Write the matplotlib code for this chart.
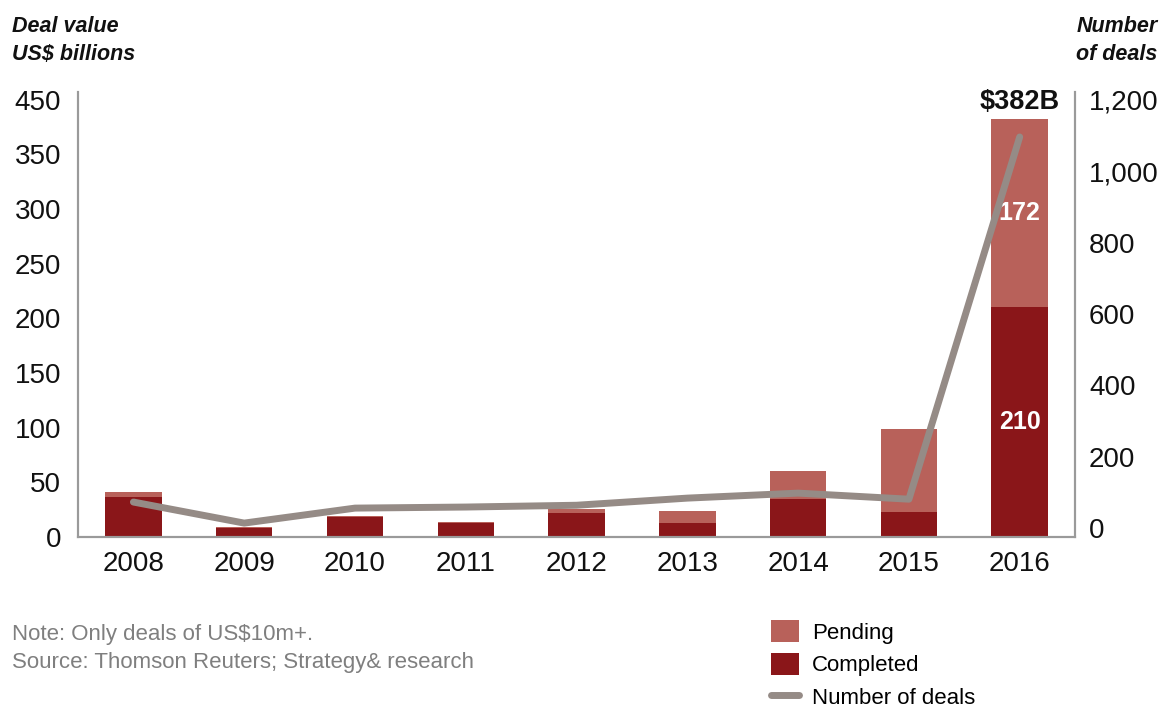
import matplotlib.pyplot as plt
from matplotlib.patches import Patch
from matplotlib.lines import Line2D
import numpy as np

plt.rcParams['font.family'] = ['Liberation Sans', 'DejaVu Sans']

# deal values in US$ billions and number of deals per year
years = ['2008', '2009', '2010', '2011', '2012', '2013', '2014', '2015', '2016']
completed = [37, 8, 18, 13, 22, 13, 35, 23, 210]
pending = [4, 1, 1, 1, 4, 11, 25, 76, 172]
num_deals = [73, 14, 56, 59, 64, 84, 98, 81, 1096]

# left axis ticks (top label reads 450 on the printed scale)
left_ticks = [0, 50, 100, 150, 200, 250, 300, 350, 400]
left_labels = ['0', '50', '100', '150', '200', '250', '300', '350', '450']
right_ticks = [0, 200, 400, 600, 800, 1000, 1200]
right_labels = ['0', '200', '400', '600', '800', '1,000', '1,200']

c_done = '#8A1619'
c_pend = '#B8615A'
c_line = '#958B86'
c_spine = '#9A9A9A'

fig = plt.figure(figsize=(11.61, 7.11), dpi=100)
ax = fig.add_axes([0.0672, 0.2447, 0.8588, 0.6259])
x = np.arange(len(years))

ax.bar(x, completed, width=0.51, color=c_done, zorder=2)
ax.bar(x, pending, width=0.51, bottom=completed, color=c_pend, zorder=2)
ax.set_xlim(-0.5, 8.5)
ax.set_ylim(0, 407)
ax.set_yticks(left_ticks)
ax.set_yticklabels(left_labels)
ax.set_xticks(x)
ax.set_xticklabels(years)
ax.tick_params(length=0, labelsize=20, colors='#111111')
ax.tick_params(axis='y', pad=12)
ax.tick_params(axis='x', pad=10)
ax.spines['top'].set_visible(False)
for s in ['left', 'bottom', 'right']:
    ax.spines[s].set_color(c_spine)
    ax.spines[s].set_linewidth(1.5)

# values inside the 2016 bar and total above it
ax.text(x[-1], completed[-1] / 2, str(completed[-1]), ha='center', va='center',
        color='white', fontsize=18, fontweight='bold', zorder=4)
ax.text(x[-1], completed[-1] + pending[-1] / 2, str(pending[-1]), ha='center', va='center',
        color='white', fontsize=18, fontweight='bold', zorder=4)
total = completed[-1] + pending[-1]
ax.annotate('$%dB' % total, (x[-1], total), xytext=(0, 3), textcoords='offset points',
            ha='center', va='bottom', fontsize=19.5, fontweight='bold', color='#111111',
            zorder=5, annotation_clip=False)

ax2 = ax.twinx()
ax2.plot(x, num_deals, color=c_line, linewidth=5, solid_capstyle='round', zorder=3)
ax2.set_ylim(-25, 1222)
ax2.set_yticks(right_ticks)
ax2.set_yticklabels(right_labels)
ax2.tick_params(length=0, labelsize=20, colors='#111111', pad=10)
ax2.spines['top'].set_visible(False)
for s in ['left', 'bottom', 'right']:
    ax2.spines[s].set_color(c_spine)
    ax2.spines[s].set_linewidth(1.5)

fig.text(0.010, 0.978, 'Deal value\nUS$ billions', ha='left', va='top', fontsize=15.5,
         fontweight='bold', fontstyle='italic', color='#111111', linespacing=1.45)
fig.text(0.997, 0.978, 'Number\nof deals', ha='right', va='top', fontsize=15.5,
         fontweight='bold', fontstyle='italic', color='#111111', linespacing=1.45)

fig.text(0.010, 0.122, 'Note: Only deals of US$10m+.\nSource: Thomson Reuters; Strategy& research',
         ha='left', va='top', fontsize=16, color='#7F7F7F', linespacing=1.4)

handles = [Patch(facecolor=c_pend, edgecolor='none'),
           Patch(facecolor=c_done, edgecolor='none'),
           Line2D([0], [0], color=c_line, linewidth=5, solid_capstyle='round')]
fig.legend(handles, ['Pending', 'Completed', 'Number of deals'], loc='upper left',
           bbox_to_anchor=(0.664, 0.128), frameon=False, fontsize=16,
           handlelength=1.25, handleheight=1.15, handletextpad=0.6, labelspacing=0.42,
           borderaxespad=0, borderpad=0)

fig.savefig('out.png', dpi=100)
